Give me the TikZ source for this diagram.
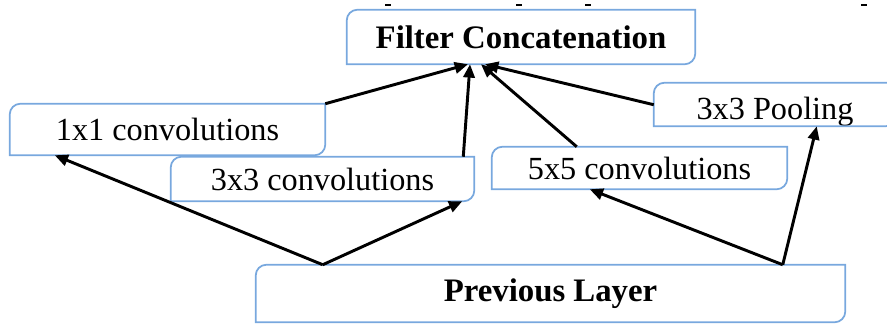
\documentclass[tikz,border=0pt]{standalone}
\usepackage{fontspec}
\setmainfont{Liberation Serif}
\usetikzlibrary{arrows.meta,calc}
\definecolor{boxblue}{RGB}{120,168,222}
\tikzset{
  box/.style={inner sep=0pt, font=\fontsize{24.2}{29}\selectfont},
  headbox/.style={inner sep=0pt, font=\fontsize{24.6}{30}\selectfont\bfseries},
  boxedge/.style={draw=boxblue, line width=1.3pt},
  link/.style={draw=black, line width=2.2pt, -{Triangle[length=10pt,width=8.5pt]}},
  tickmark/.style={draw=black, line width=1.3pt}
}
% #1 name, #2..#5 corners (x1,y1,x2,y2), #6 style, #7 text
\newcommand\layerbox[7]{%
  \node[#6, minimum width={(#4-#2)*0.75pt}, minimum height={(#5-#3)*0.75pt}]
    (#1) at ({(#2+#4)/2},{(#3+#5)/2}) {#7};
  \draw[boxedge] (#1.south west) -- ([yshift=-8pt]#1.north west)
    arc[start angle=180, end angle=90, radius=8pt] -- (#1.north east)
    -- ([yshift=8pt]#1.south east)
    arc[start angle=0, end angle=-90, radius=8pt] -- cycle;}
\begin{document}
\begin{tikzpicture}[x=0.75pt, y=-0.75pt]
  \useasboundingbox (0,0) rectangle (887,324);
  \clip (0,0) rectangle (887,324);

  % small marks along the top edge
  \draw[tickmark] (385,5) -- (391,5);
  \draw[tickmark] (516,5) -- (522,5);
  \draw[tickmark] (585,5) -- (591,5);
  \draw[tickmark] (861,5) -- (867,5);

  % boxes
  \layerbox{fc}{347}{10}{695}{64}{headbox}{Filter Concatenation}
  \layerbox{c11}{10}{104}{325}{155}{box}{1x1 convolutions}
  \layerbox{c33}{171}{157}{474}{201}{box}{3x3 convolutions}
  \layerbox{c55}{492}{147}{787}{189}{box}{5x5 convolutions}
  \layerbox{pool}{654}{83}{896}{126}{box}{\raisebox{-11.6pt}[0pt][0pt]{3x3 Pooling}}
  \layerbox{prev}{256}{265}{845}{322}{headbox}{Previous Layer}

  % connector end points
  \coordinate (t11) at ($(fc.south)+(-53,0)$);
  \coordinate (t33) at ($(fc.south)+(-51,0)$);
  \coordinate (t55) at ($(fc.south)+(-40,0)$);
  \coordinate (tpool) at ($(fc.south)+(-36,0)$);
  \coordinate (s33) at ($(c33.north east)+(-11,0)$);
  \coordinate (s55) at ($(c55.north west)+(85,0)$);
  \coordinate (spool) at ($(pool.north west)+(0,22)$);
  \coordinate (pl) at ($(prev.north west)+(67,0)$);
  \coordinate (pr) at ($(prev.north west)+(527,0)$);
  \coordinate (b11) at ($(c11.south west)+(45,0)$);
  \coordinate (b33) at ($(c33.south east)+(-12,0)$);
  \coordinate (b55) at ($(c55.south west)+(98,0)$);
  \coordinate (bpool) at ($(pool.south west)+(163,0)$);

  % branches into the concatenation
  \draw[link] (c11.north east) -- (t11);
  \draw[link] (s33) -- (t33);
  \draw[link] (s55) -- (t55);
  \draw[link] (spool) -- (tpool);

  % previous layer feeding the branches
  \draw[link] (pl) -- (b11);
  \draw[link] (pl) -- (b33);
  \draw[link] (pr) -- (b55);
  \draw[link] (pr) -- (bpool);
\end{tikzpicture}
\end{document}
